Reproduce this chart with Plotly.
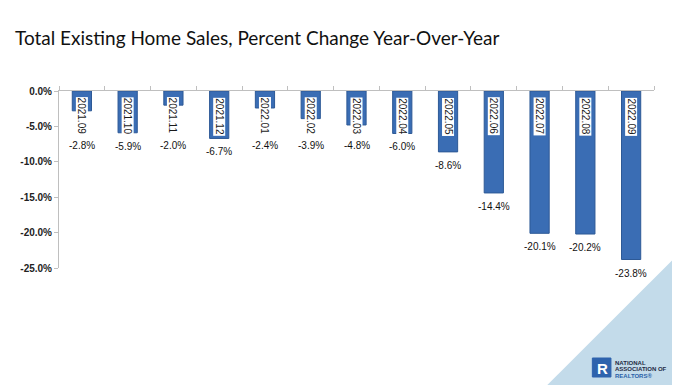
import plotly.graph_objects as go

months = ["2021.09", "2021.10", "2021.11", "2021.12", "2022.01", "2022.02", "2022.03",
          "2022.04", "2022.05", "2022.06", "2022.07", "2022.08", "2022.09"]
pct_change = [-2.8, -5.9, -2.0, -6.7, -2.4, -3.9, -4.8, -6.0, -8.6, -14.4, -20.1, -20.2, -23.8]
y_ticks = [0, -5, -10, -15, -20, -25]

# page body has an 8px margin; figure is offset by it
OFF = 8
W, H = 680 - OFF, 385 - OFF
ML, MT = 46 - OFF, 91 - OFF
PW, PH = 608, 177
MR, MB = W - ML - PW, H - MT - PH


def px(x, y):
    """window pixel -> paper coords"""
    return (x - OFF - ML) / PW, 1 - (y - OFF - MT) / PH


fig = go.Figure()
fig.add_trace(go.Bar(
    x=months, y=pct_change, width=0.42,
    marker=dict(color="#3a6db4", line=dict(color="#2d5996", width=1)),
    hoverinfo="x+y",
))

ann = []
for i, (m, v) in enumerate(zip(months, pct_change)):
    ann.append(dict(x=i, y=0, xref="x", yref="y", text=m, textangle=90,
                    showarrow=False, yanchor="top", xanchor="center", yshift=-6,
                    bgcolor="white", borderpad=0,
                    font=dict(family="Liberation Sans", size=10, color="#1a1a1a")))
    ann.append(dict(x=i, y=min(v, -5.8), xref="x", yref="y", text=f"{v:.1f}%",
                    showarrow=False, yanchor="top", xanchor="center", yshift=-6,
                    font=dict(family="Liberation Sans", size=10, color="#111111")))

# NAR logo
for txt, yy, col in [("NATIONAL", 362.5, "#1f2a44"),
                     ("ASSOCIATION OF", 369, "#1f2a44"),
                     ("REALTORS®", 375.5, "#2a5fa8")]:
    lx, ly = px(612, yy)
    ann.append(dict(x=lx, y=ly, xref="paper", yref="paper", showarrow=False,
                    xanchor="left", yanchor="middle", text=f"<b>{txt}</b>",
                    font=dict(family="Liberation Sans", size=6, color=col)))
rx, ry = px(601, 368)
ann.append(dict(x=rx, y=ry, xref="paper", yref="paper", showarrow=False,
                xanchor="center", yanchor="middle", text="<b>R</b>",
                font=dict(family="Liberation Sans", size=15, color="white")))

shapes = []
a = px(680, 253); b = px(545, 385); c = px(680, 385)
shapes.append(dict(type="path", xref="paper", yref="paper",
                   path=f"M {a[0]},{a[1]} L {b[0]},{b[1]} L {c[0]},{c[1]} Z",
                   fillcolor="#c3dbea", line=dict(width=0), layer="below"))
r0 = px(591, 358); r1 = px(610, 377)
shapes.append(dict(type="rect", xref="paper", yref="paper",
                   x0=r0[0], y0=r1[1], x1=r1[0], y1=r0[1],
                   fillcolor="#2e63ad", line=dict(color="#2e63ad", width=1)))

fig.update_layout(
    width=W, height=H,
    margin=dict(l=ML, r=MR, t=MT, b=MB),
    paper_bgcolor="white", plot_bgcolor="white",
    showlegend=False,
    title=dict(text="Total Existing Home Sales, Percent Change Year-Over-Year",
               xref="container", yref="container", x=(15 - OFF) / W, y=1 - (38 - OFF) / H,
               xanchor="left", yanchor="middle",
               font=dict(family="Lato", size=19, color="#111111")),
    annotations=ann, shapes=shapes,
    xaxis=dict(type="category", range=[-0.5, len(months) - 0.5], side="top",
               showticklabels=False, showline=True,
               linecolor="#bfbfbf", ticks="outside", ticklen=4, tickcolor="#bfbfbf",
               tickson="boundaries", showgrid=False, zeroline=False),
    yaxis=dict(range=[-25, 0], tickvals=y_ticks, ticktext=[f"{t:.1f}%" for t in y_ticks],
               showline=True, linecolor="#bfbfbf", ticks="outside", ticklen=4,
               tickcolor="#bfbfbf", showgrid=False, zeroline=False,
               tickfont=dict(family="Liberation Sans", size=10, color="#222222",
                             weight="bold")),
)

fig.write_html("out.html")
